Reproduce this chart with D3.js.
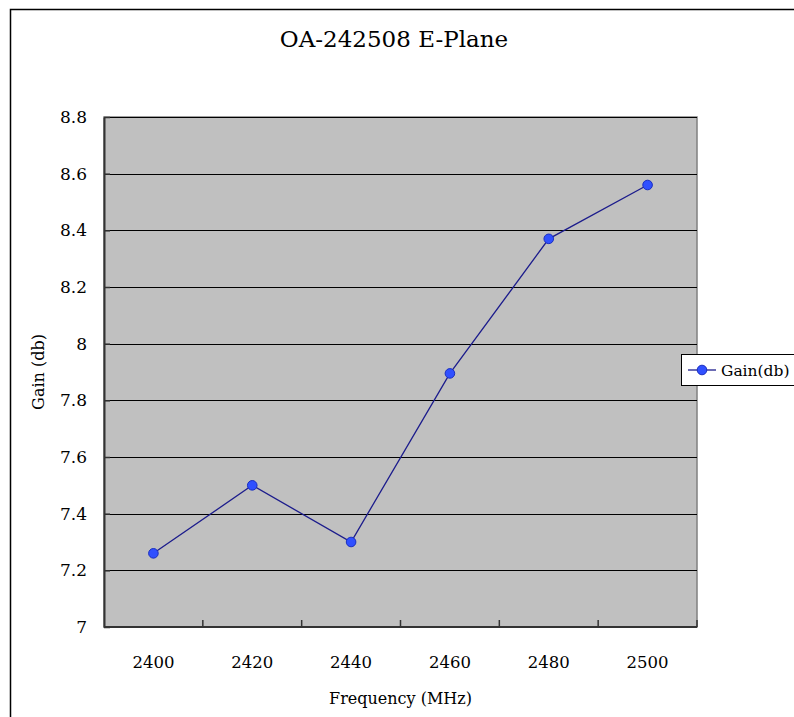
<!DOCTYPE html>
<html>
<head>
<meta charset="utf-8">
<script src="https://cdn.jsdelivr.net/npm/d3@7/dist/d3.min.js"></script>
<style>
  body { margin: 0; background: #fff; }
  svg text { fill: #000; }
</style>
</head>
<body>
<div id="plot"></div>
<script>
// chart data
var frequencies = [2400, 2420, 2440, 2460, 2480, 2500];
var gains = [7.26, 7.50, 7.30, 7.895, 8.37, 8.56];
var yTicks = [7, 7.2, 7.4, 7.6, 7.8, 8, 8.2, 8.4, 8.6, 8.8];
var seriesName = "Gain(db)";

var W = 794, H = 717;
var serif = "'DejaVu Serif', serif";
var margin = { top: 117, right: 97, bottom: 90, left: 104 },
    width = W - margin.left - margin.right,
    height = H - margin.top - margin.bottom;

var svg = d3.select("#plot").append("svg")
    .attr("width", W)
    .attr("height", H)
    .style("font-family", serif);

// outer chart border (cut off on right and bottom)
svg.append("rect")
    .attr("x", 10.5)
    .attr("y", 9.5)
    .attr("width", W + 20)
    .attr("height", H + 20)
    .attr("fill", "none")
    .attr("stroke", "#000")
    .attr("stroke-width", 1.5);

var g = svg.append("g")
    .attr("transform", "translate(" + margin.left + "," + margin.top + ")");

var xBand = d3.scaleBand()
    .domain(frequencies)
    .range([0, width]);

var yScale = d3.scaleLinear()
    .domain([7, 8.8])
    .range([height, 0]);

// plot background
g.append("rect")
    .attr("width", width)
    .attr("height", height)
    .attr("fill", "#c0c0c0")
    .attr("stroke", "#808080")
    .attr("stroke-width", 1.5);

// horizontal gridlines
g.append("g")
    .selectAll("line")
    .data(yTicks.slice(1))
    .enter().append("line")
    .attr("x1", 0)
    .attr("x2", width)
    .attr("y1", function(d) { return Math.round(yScale(d)) + 0.5; })
    .attr("y2", function(d) { return Math.round(yScale(d)) + 0.5; })
    .attr("stroke", "#000")
    .attr("stroke-width", 1);

// y axis
var yAxis = d3.axisLeft(yScale)
    .tickValues(yTicks)
    .tickSize(0)
    .tickPadding(17)
    .tickFormat(function(d) { return d3.format("~g")(d); });

var yG = g.append("g").call(yAxis).attr("font-family", null);
yG.select(".domain").attr("stroke", "#333").attr("stroke-width", 2);
yG.selectAll("text")
    .style("font-size", "17px");
yG.selectAll(".tick").append("line")
    .attr("x1", 0).attr("x2", 6)
    .attr("stroke", "#333").attr("stroke-width", 1.5);

// x axis with ticks between categories
var xG = g.append("g").attr("transform", "translate(0," + height + ")");
xG.append("line")
    .attr("x1", 0).attr("x2", width)
    .attr("stroke", "#333").attr("stroke-width", 2);
xG.selectAll(".tk")
    .data(frequencies)
    .enter().append("line")
    .attr("x1", function(d) { return xBand(d) + xBand.bandwidth(); })
    .attr("x2", function(d) { return xBand(d) + xBand.bandwidth(); })
    .attr("y1", 0).attr("y2", -7)
    .attr("stroke", "#333").attr("stroke-width", 1.5);
xG.selectAll(".lbl")
    .data(frequencies)
    .enter().append("text")
    .attr("x", function(d) { return xBand(d) + xBand.bandwidth() / 2; })
    .attr("y", 41)
    .attr("text-anchor", "middle")
    .style("font-size", "16.5px")
    .text(function(d) { return d; });

var pts = frequencies.map(function(f, i) { return { x: f, y: gains[i] }; });

var line = d3.line()
    .x(function(d) { return xBand(d.x) + xBand.bandwidth() / 2; })
    .y(function(d) { return yScale(d.y); });

g.append("path")
    .datum(pts)
    .attr("d", line)
    .attr("fill", "none")
    .attr("stroke", "#1c1c8c")
    .attr("stroke-width", 1.3);

g.selectAll(".pt")
    .data(pts)
    .enter().append("circle")
    .attr("cx", function(d) { return xBand(d.x) + xBand.bandwidth() / 2; })
    .attr("cy", function(d) { return yScale(d.y); })
    .attr("r", 4.8)
    .attr("fill", "#3050ff")
    .attr("stroke", "#1a2ec0")
    .attr("stroke-width", 1);

// title
svg.append("text")
    .attr("x", 394)
    .attr("y", 47)
    .attr("text-anchor", "middle")
    .style("font-size", "23px")
    .text("OA-242508 E-Plane");

// axis titles
svg.append("text")
    .attr("transform", "translate(44," + (margin.top + height / 2) + ") rotate(-90)")
    .attr("text-anchor", "middle")
    .style("font-size", "16px")
    .text("Gain (db)");

svg.append("text")
    .attr("x", margin.left + width / 2)
    .attr("y", 704)
    .attr("text-anchor", "middle")
    .style("font-size", "16px")
    .text("Frequency (MHz)");

// legend
var lg = svg.append("g").attr("transform", "translate(681,354)");
lg.append("rect")
    .attr("x", 0.5).attr("y", 0.5)
    .attr("width", 140).attr("height", 31)
    .attr("fill", "#fff")
    .attr("stroke", "#000")
    .attr("stroke-width", 1);
lg.append("line")
    .attr("x1", 7).attr("x2", 35)
    .attr("y1", 16).attr("y2", 16)
    .attr("stroke", "#1c1c8c").attr("stroke-width", 1.3);
lg.append("circle")
    .attr("cx", 21).attr("cy", 16).attr("r", 4.8)
    .attr("fill", "#3050ff").attr("stroke", "#1a2ec0");
lg.append("text")
    .attr("x", 40).attr("y", 22)
    .style("font-size", "15.5px")
    .text(seriesName);
</script>
</body>
</html>
